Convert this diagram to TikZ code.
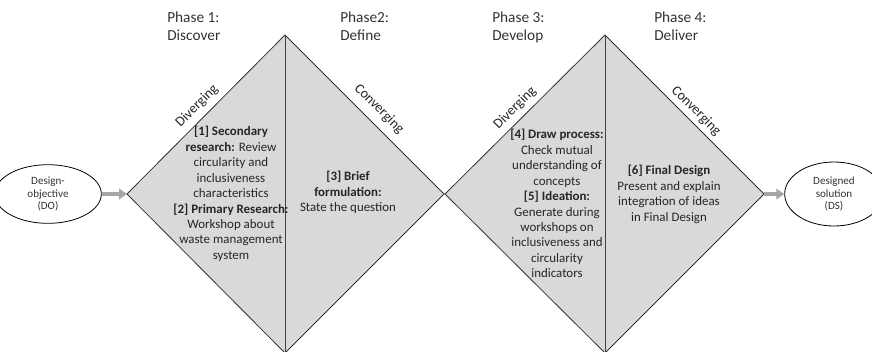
\documentclass[tikz,border=0pt]{standalone}
\usepackage{fontspec}
\setmainfont{Carlito}
\usetikzlibrary{shapes.geometric,arrows.meta}
\definecolor{dfill}{HTML}{D9D9D9}
\definecolor{agray}{HTML}{A6A6A6}
\begin{document}
\begin{tikzpicture}[x=0.75pt,y=-0.75pt,
  dia/.style={fill=dfill,draw=black!80,line width=0.6pt},
  phase/.style={anchor=north west,align=left,font=\fontsize{11.5}{13}\selectfont,text=black!80,inner sep=0pt},
  body/.style={align=center,font=\fontsize{9.7}{11.6}\selectfont,text=black!85,inner sep=0pt},
  edgelab/.style={font=\fontsize{10.5}{12}\selectfont,text=black!85,inner sep=0pt},
  endpt/.style={ellipse,draw=black,line width=0.6pt,align=center,font=\fontsize{8.3}{9.4}\selectfont,text=black!80,inner sep=0pt},
  flow/.style={draw=agray,line width=2.4pt,-{Triangle[length=6pt,width=8pt]}}]
\useasboundingbox (0,0) rectangle (872,351);
% diamonds
\coordinate (t1) at (285,35); \coordinate (l1) at (127,194);
\coordinate (b1) at (285,353); \coordinate (r1) at (444,194);
\coordinate (t2) at (605,35); \coordinate (l2) at (445,194);
\coordinate (b2) at (605,353); \coordinate (r2) at (764,194);
\draw[dia] (t1) -- (r1) -- (b1) -- (l1) -- cycle;
\draw[dia] (t2) -- (r2) -- (b2) -- (l2) -- cycle;
\draw[black!75,line width=0.6pt] (t1) -- (b1);
\draw[black!75,line width=0.6pt] (t2) -- (b2);
% phase labels
\node[phase] (p1) at (167,12) {Phase 1:\\Discover};
\node[phase] (p2) at (340,12) {Phase2:\\Define};
\node[phase] (p3) at (492,12) {Phase 3:\\Develop};
\node[phase] (p4) at (654,12) {Phase 4:\\Deliver};
% edge labels
\node[edgelab,rotate=45] (dv1) at (197,106) {Diverging};
\node[edgelab,rotate=-45] (cv1) at (379,109) {Converging};
\node[edgelab,rotate=45] (dv2) at (515,108) {Diverging};
\node[edgelab,rotate=-45] (cv2) at (696,111) {Converging};
% body texts
\node[body,anchor=north] (s1) at (231,126) {\textbf{[1] Secondary}\\\textbf{research:} Review\\circularity and\\inclusiveness\\characteristics\\\textbf{[2] Primary Research:}\\Workshop about\\waste management\\system};
\node[body,anchor=north] (s3) at (348,171) {\textbf{[3] Brief}\\\textbf{formulation:}\\State the question};
\node[body,anchor=north] (s4) at (557,129) {\textbf{[4] Draw process:}\\Check mutual\\understanding of\\concepts\\\textbf{[5] Ideation:}\\Generate during\\workshops on\\inclusiveness and\\circularity\\indicators};
\node[body,anchor=north] (s6) at (669,165) {\textbf{[6] Final Design}\\Present and explain\\integration of ideas\\in Final Design};
% endpoints
\node[endpt,minimum width=80,minimum height=44] (do) at (48,194) {Design-\\objective\\(DO)};
\node[endpt,minimum width=74,minimum height=48] (ds) at (834,194) {Designed\\solution\\(DS)};
\draw[flow] (do.east) -- (l1);
\draw[flow] (r2) -- (ds.west);
\end{tikzpicture}
\end{document}
